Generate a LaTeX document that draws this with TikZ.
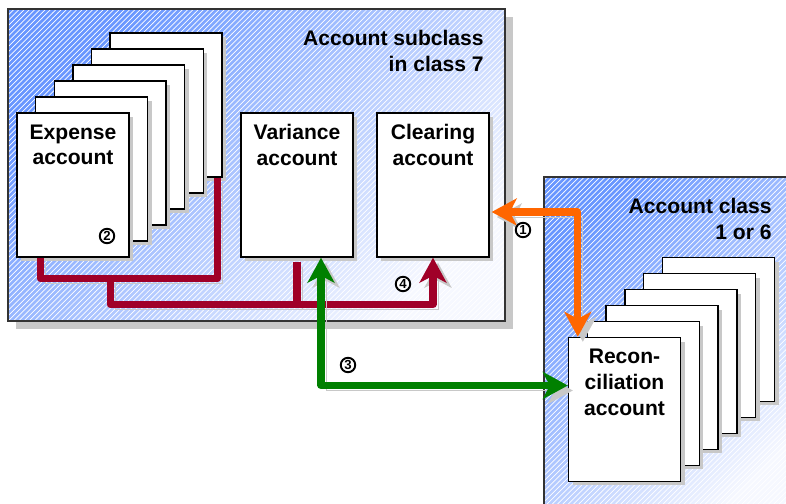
\documentclass[tikz,border=0pt]{standalone}
\usepackage{fontspec}
\setmainfont{Liberation Sans}
\usetikzlibrary{arrows.meta,calc,shadows,patterns}

\definecolor{boxblue}{RGB}{104,150,255}
\definecolor{boxpale}{RGB}{246,248,255}
\definecolor{wine}{RGB}{160,0,40}
\definecolor{leafgreen}{RGB}{0,128,0}
\definecolor{signalorange}{RGB}{255,102,0}
\definecolor{shadowgray}{RGB}{200,200,200}

\tikzset{
  area/.style={line width=1.1pt, top color=boxblue, bottom color=boxpale, shading angle=45,
    drop shadow={shadow xshift=0.16cm, shadow yshift=-0.16cm, fill=shadowgray, opacity=1},
    postaction={pattern=north east lines, pattern color=white, fill opacity=0.18},
    postaction={draw=black!80}},
  title/.style={font=\bfseries\fontsize{12}{14.7}\selectfont, align=right, anchor=north east, inner sep=0pt},
  page/.style={draw=black, line width=0.8pt, fill=white, minimum width=2.24cm, minimum height=2.88cm, inner sep=0pt,
    drop shadow={shadow xshift=0.08cm, shadow yshift=-0.08cm, fill=shadowgray, opacity=1}},
  pagetext/.style={anchor=north, align=center, inner sep=0pt, yshift=-0.24cm, font=\bfseries\fontsize{12}{14.7}\selectfont},
  numcircle/.style={circle, draw, fill=white, line width=1.1pt, minimum size=0.29cm, inner sep=0pt, font=\bfseries\fontsize{7.5}{7.5}\selectfont},
  wire/.style={line width=4pt, line join=round,
    preaction={draw=shadowgray, transform canvas={shift={(0.1cm,-0.1cm)}}}},
  >={Stealth[length=0.5cm, width=0.54cm, inset=0.14cm]}
}

\begin{document}
\begin{tikzpicture}[x=0.02cm, y=-0.02cm]
\useasboundingbox (0,0) rectangle (786,503);
\clip (0,0) rectangle (786,503);

\path[area] (8,9) rectangle (505,321);
\path[area] (544,177) rectangle (800,520);

\node[title] (sub) at (484,30) {Account subclass\\in class 7};
\node[title] (cls) at (772,198) {Account class\\1 or 6};

\foreach \i in {5,...,1}
  \node[page] (exp\i) at ({73+18.6*\i},{185-16*\i}) {};
\node[page, label={[pagetext]north:Expense\\account}] (exp) at (73,185) {};
\node[page, label={[pagetext]north:Variance\\account}] (var) at (297,185) {};
\node[page, label={[pagetext]north:Clearing\\account}] (clr) at (433,185) {};

\foreach \i in {5,...,1}
  \node[page] (rec\i) at ({624.5+18.8*\i},{409.5-16*\i}) {};
\node[page, label={[pagetext]north:Recon-\\ciliation\\account}] (rec) at (624.5,409.5) {};

\draw[wire, wine] ($(exp.south west)+(24,0)$) -- ++(0,21) -| ($(exp5.south east)+(-5,0)$);
\draw[wire, wine] ($(var.south)+(0,4)$) -- ++(0,43);
\draw[wire, wine, ->] ($(exp.south west)+(94,21)$) -- ++(0,26) -| (clr.south);
\draw[wire, leafgreen, <->] ($(var.south)+(24,0)$) |- ($(rec.west)+(0,-24)$);
\draw[wire, signalorange, <->] ($(clr.east)+(2,27)$) -| ($(rec.north west)+(10,0)$);

\node[numcircle] (n1) at (523,230) {1};
\node[numcircle] (n2) at (107,236) {2};
\node[numcircle] (n3) at (348,365) {3};
\node[numcircle] (n4) at (403,284) {4};
\end{tikzpicture}
\end{document}
